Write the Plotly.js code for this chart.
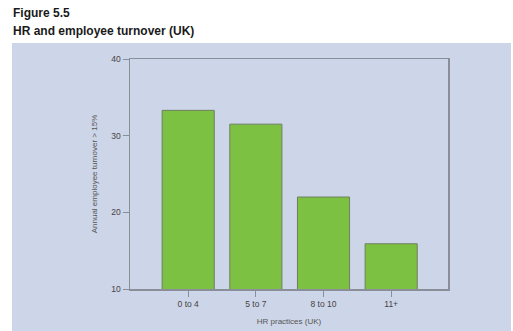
<!DOCTYPE html>
<html><head><meta charset="utf-8">
<script src="https://cdn.plot.ly/plotly-3.0.1.min.js"></script>
<style>html,body{margin:0;padding:0;background:#fff}#c{width:513px;height:331px}</style>
</head><body><div id="c"></div>
<script>
var categories = ["0 to 4", "5 to 7", "8 to 10", "11+"];
var turnover = [33.3, 31.5, 22.0, 15.9];
var yTicks = [10, 20, 30, 40];

var W = 513, H = 331, L = 130, R = 65, T = 59, B = 42;
var pw = W - L - R, ph = H - T - B;
function px(x){ return (x - L) / pw; }
function py(y){ return (H - B - y) / ph; }

var trace = {
  type: 'bar', x: categories, y: turnover,
  marker: {color: '#7dc142', line: {color: '#6f7f60', width: 1}},
  hoverinfo: 'none'
};

var layout = {
  width: W, height: H,
  margin: {l: L, r: R, t: T, b: B, pad: 0},
  paper_bgcolor: '#ffffff', plot_bgcolor: 'rgba(0,0,0,0)',
  bargap: 0.23, showlegend: false,
  font: {family: 'Liberation Sans, Arial, sans-serif', color: '#444'},
  xaxis: {
    type: 'category', range: [-0.86, 3.84], showgrid: false, zeroline: false,
    showline: true, mirror: true, linecolor: '#8a8e99', linewidth: 1.5,
    ticks: 'outside', ticklen: 6, tickcolor: '#8a8e99', tickwidth: 1,
    tickfont: {size: 8.5, color: '#444'},
    title: {text: 'HR practices (UK)', font: {size: 8, color: '#555'}, standoff: 10}
  },
  yaxis: {
    range: [10, 40], tickvals: yTicks, showgrid: false, zeroline: false,
    showline: true, mirror: true, linecolor: '#8a8e99', linewidth: 1.5,
    ticks: 'outside', ticklen: 6, tickcolor: '#8a8e99', tickwidth: 1,
    tickfont: {size: 8.5, color: '#444'},
    title: {text: 'Annual employee turnover > 15%', font: {size: 8, color: '#555'}, standoff: 12}
  },
  shapes: [{
    type: 'rect', xref: 'paper', yref: 'paper', layer: 'below',
    x0: px(12), x1: px(511), y0: py(331), y1: py(43),
    fillcolor: '#cdd5e8', line: {width: 0}
  }],
  annotations: [
    {xref: 'paper', yref: 'paper', x: px(11), y: py(13), xanchor: 'left', yanchor: 'middle',
     text: '<b>Figure 5.5</b>', showarrow: false, font: {size: 12, color: '#1a1a1a'}},
    {xref: 'paper', yref: 'paper', x: px(11), y: py(31), xanchor: 'left', yanchor: 'middle',
     text: '<b>HR and employee turnover (UK)</b>', showarrow: false, font: {size: 12, color: '#1a1a1a'}}
  ]
};

Plotly.newPlot('c', [trace], layout, {displayModeBar: false, staticPlot: true});
</script>
</body></html>
